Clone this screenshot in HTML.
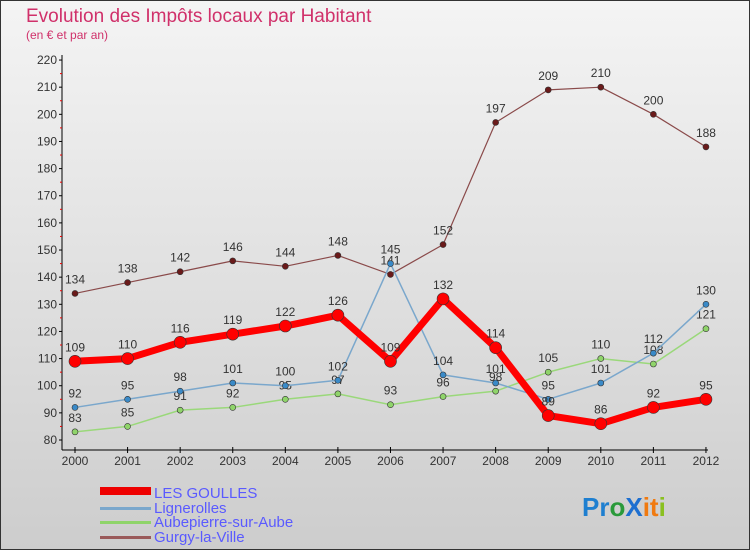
<!DOCTYPE html>
<html><head><meta charset="utf-8"><style>
body{margin:0;background:#fff}
svg{display:block;font-family:"Liberation Sans",sans-serif}
</style></head><body>
<svg id="c" width="750" height="550" viewBox="0 0 750 550">
<defs><linearGradient id="bg" x1="0" y1="0" x2="0" y2="1"><stop offset="0" stop-color="#f4f4f4"/><stop offset="1" stop-color="#cdcdcd"/></linearGradient></defs>
<rect x="0.5" y="0.5" width="749" height="549" fill="url(#bg)" stroke="#333"/>
<text x="26" y="22" font-size="19" fill="#d0306a">Evolution des Impôts locaux par Habitant</text>
<text x="26" y="39" font-size="12" fill="#d0306a">(en € et par an)</text>
<g id="axes"></g><g id="series"></g>
<g>
<rect x="100" y="487" width="51" height="8" fill="#e00"/>
<text x="154" y="498" font-size="15" fill="#5a5aff">LES GOULLES</text>
<rect x="100" y="507" width="51" height="3" fill="#7aa7cc"/>
<text x="154" y="513" font-size="15" fill="#5a5aff">Lignerolles</text>
<rect x="100" y="521" width="51" height="3" fill="#8fd46a"/>
<text x="154" y="527" font-size="15" fill="#5a5aff">Aubepierre-sur-Aube</text>
<rect x="100" y="536" width="51" height="3" fill="#9a5a5a"/>
<text x="154" y="542" font-size="15" fill="#5a5aff">Gurgy-la-Ville</text>
</g>
<text x="582" y="516" font-size="26" font-weight="bold"><tspan fill="#1e7fd0">Pr</tspan><tspan fill="#2a9a3a">o</tspan><tspan fill="#1e6fd0">X</tspan><tspan fill="#f07a10">it</tspan><tspan fill="#8ac020">i</tspan></text>
</svg>
<script>
const years=["2000","2001","2002","2003","2004","2005","2006","2007","2008","2009","2010","2011","2012"];
const yTicks=[80,90,100,110,120,130,140,150,160,170,180,190,200,210,220];
const lesGoulles=[109,110,116,119,122,126,109,132,114,89,86,92,95];
const lignerolles=[92,95,98,101,100,102,145,104,101,95,101,112,130];
const aubepierre=[83,85,91,92,95,97,93,96,98,105,110,108,121];
const gurgy=[134,138,142,146,144,148,141,152,197,209,210,200,188];
const NS="http://www.w3.org/2000/svg";
const X=i=>75+i*52.58, Y=v=>440-(v-80)*2.714;
function mk(p,t,a){const e=document.createElementNS(NS,t);for(const k in a)e.setAttribute(k,a[k]);p.appendChild(e);return e;}
const ax=document.getElementById('axes');
let l=mk(ax,'line',{x1:62,y1:55,x2:62,y2:450,stroke:'#000'});


l=mk(ax,'line',{x1:62,y1:450,x2:708,y2:450,stroke:'#000'});


yTicks.forEach(v=>{
 mk(ax,'line',{x1:59,y1:Y(v),x2:62,y2:Y(v),stroke:'#000'});
 if(v<220)mk(ax,'line',{x1:60,y1:Y(v+5),x2:62,y2:Y(v+5),stroke:'#e00'});
 const t=mk(ax,'text',{x:57,y:Y(v)+4,'font-size':12,'text-anchor':'end',fill:'#333'});t.textContent=v;
 
 
});
years.forEach((y,i)=>{
 mk(ax,'line',{x1:X(i),y1:447,x2:X(i),y2:453,stroke:'#000'});
 const t=mk(ax,'text',{x:X(i),y:465,'font-size':12,'text-anchor':'middle',fill:'#333'});t.textContent=y;
 
 
});
const sg=document.getElementById('series');
function draw(name,vals,color,w,dot,dotFill){
 const g=mk(sg,'g',{});
 
 
 const p=mk(g,'polyline',{points:vals.map((v,i)=>X(i)+','+Y(v)).join(' '),fill:'none',stroke:color,'stroke-width':w,'stroke-linejoin':'round'});
 
 
 vals.forEach((v,i)=>{
  const c=mk(g,'circle',{cx:X(i),cy:Y(v),r:dot,fill:dotFill,stroke:'#333','stroke-width':0.6});
  
  
  const t=mk(g,'text',{x:X(i),y:Y(v)-10,'font-size':12,'text-anchor':'middle',fill:'#333'});t.textContent=v;
  
  
 });
}
draw('gurgy',gurgy,'#8a4a4a',1.2,3,'#6a1a1a');
draw('aubepierre',aubepierre,'#9ad87a',1.5,3,'#8fd46a');
draw('lignerolles',lignerolles,'#7aa7cc',1.5,3,'#3a8ac8');
draw('les-goulles',lesGoulles,'#f00',7,6,'#f00');
</script>
</body></html>
